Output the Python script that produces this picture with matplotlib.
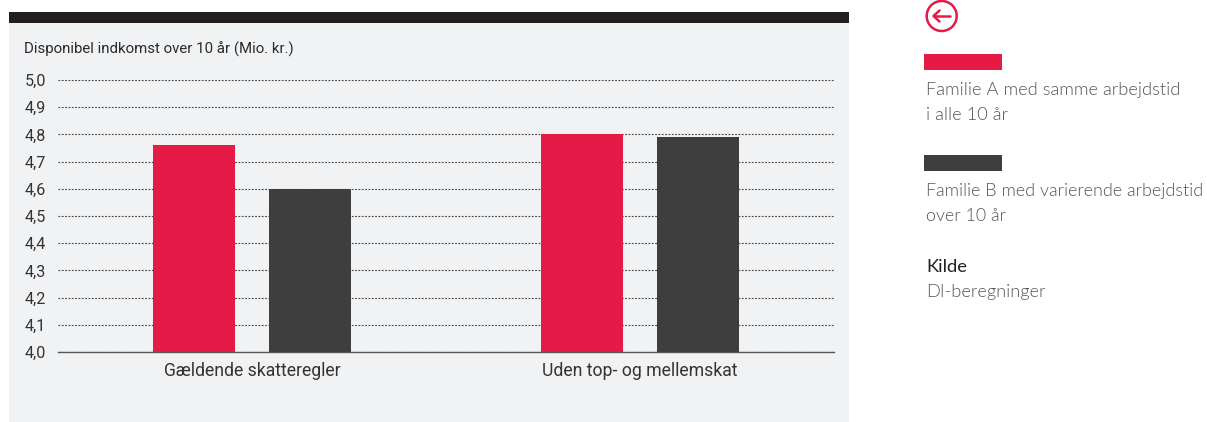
import matplotlib
matplotlib.use('Agg')
import matplotlib.pyplot as plt
from matplotlib import font_manager
from matplotlib.patches import Rectangle, Circle
import numpy as np

categories = ['Gældende skatteregler', 'Uden top- og mellemskat']
familie_a = [4.76, 4.80]
familie_b = [4.60, 4.79]
yticks = [4.0, 4.1, 4.2, 4.3, 4.4, 4.5, 4.6, 4.7, 4.8, 4.9, 5.0]
ylabels = ['4,0', '4,1', '4,2', '4,3', '4,4', '4,5', '4,6', '4,7', '4,8', '4,9', '5,0']
title = 'Disponibel indkomst over 10 år (Mio. kr.)'
legend_a = 'Familie A med samme arbejdstid\ni alle 10 år'
legend_b = 'Familie B med varierende arbejdstid\nover 10 år'

RED = '#e51a47'
DARK = '#3e3e3e'
W, H = 1207, 422

plt.rcParams['font.family'] = ['Roboto', 'DejaVu Sans']
fig = plt.figure(figsize=(W/100, H/100), dpi=100, facecolor='white')

# the plain weight='light' lookup lands on Hairline, so pick the file by hand
light_file = None
for f in font_manager.fontManager.ttflist:
    name = f.fname.lower()
    if f.name == 'Lato' and 'light' in name and 'italic' not in name and 'hairline' not in name:
        light_file = f.fname
if light_file:
    light_font = font_manager.FontProperties(fname=light_file, size=13.15)
    light_b = font_manager.FontProperties(fname=light_file, size=12.85)
    light_col = '#555555'
else:
    light_font = font_manager.FontProperties(family='Lato', weight='normal', size=13)
    light_b = font_manager.FontProperties(family='Lato', weight='normal', size=12.7)
    light_col = '#777777'

# background layer in pixel coords
bg = fig.add_axes([0, 0, 1, 1])
bg.set_xlim(0, W)
bg.set_ylim(H, 0)
bg.axis('off')
bg.add_patch(Rectangle((9, 22), 840, 399.5, fc='#f1f2f4', ec='none'))
bg.add_patch(Rectangle((9, 12), 840, 10.5, fc='#231f20', ec='none'))
bg.add_patch(Rectangle((924, 54), 78, 16, fc=RED, ec='none'))
bg.add_patch(Rectangle((924, 155), 78, 16, fc=DARK, ec='none'))

# back arrow icon
bg.add_patch(Circle((941.7, 16), 15, fc='none', ec=RED, lw=1.8, clip_on=False))
bg.plot([933.5, 950], [16, 16], color=RED, lw=1.8, solid_capstyle='round')
bg.plot([939.5, 933.5, 939.5], [10.5, 16, 21.5], color=RED, lw=1.8, solid_capstyle='round')

bg.text(24, 49.5, title, fontsize=10.85, color='#2b2b2b', va='center', ha='left')

bg.text(926, 90, legend_a.split('\n')[0], fontproperties=light_font, color=light_col, va='center')
bg.text(926, 115, legend_a.split('\n')[1], fontproperties=light_font, color=light_col, va='center')
bg.text(926, 191, legend_b.split('\n')[0], fontproperties=light_b, color=light_col, va='center')
bg.text(926, 216, legend_b.split('\n')[1], fontproperties=light_b, color=light_col, va='center')
bg.text(926, 267, 'Kilde', family='Lato', fontsize=13.2, color='#222222', va='center', ha='left')
bg.text(926, 292, 'DI-beregninger', fontproperties=light_font, color=light_col, va='center')

# chart
ax = fig.add_axes([58/W, 1-352/H, 776/W, 272/H])
ax.patch.set_alpha(0)
x = np.arange(len(categories))
ax.bar(x-0.149, familie_a, 0.2113, color=RED, zorder=3)
ax.bar(x+0.15, familie_b, 0.2113, color=DARK, zorder=3)
ax.set_xlim(-0.5, 1.5)
ax.set_ylim(4.0, 5.0)
ax.set_yticks(yticks, ylabels)
ax.set_xticks(x, categories)
ax.grid(axis='y', color='#444444', lw=0.8, ls=(0, (1.6, 1.4)), zorder=1)
ax.set_axisbelow(True)
for s in ['top', 'right', 'left']:
    ax.spines[s].set_visible(False)
ax.spines['bottom'].set_color('#555555')
ax.spines['bottom'].set_linewidth(1.0)
ax.tick_params(axis='both', length=0)
ax.tick_params(axis='y', labelsize=11.6, labelcolor='#333333', pad=8.4)
ax.tick_params(axis='x', labelsize=12.7, labelcolor='#333333', pad=7)

plt.savefig('out.png', dpi=100)
